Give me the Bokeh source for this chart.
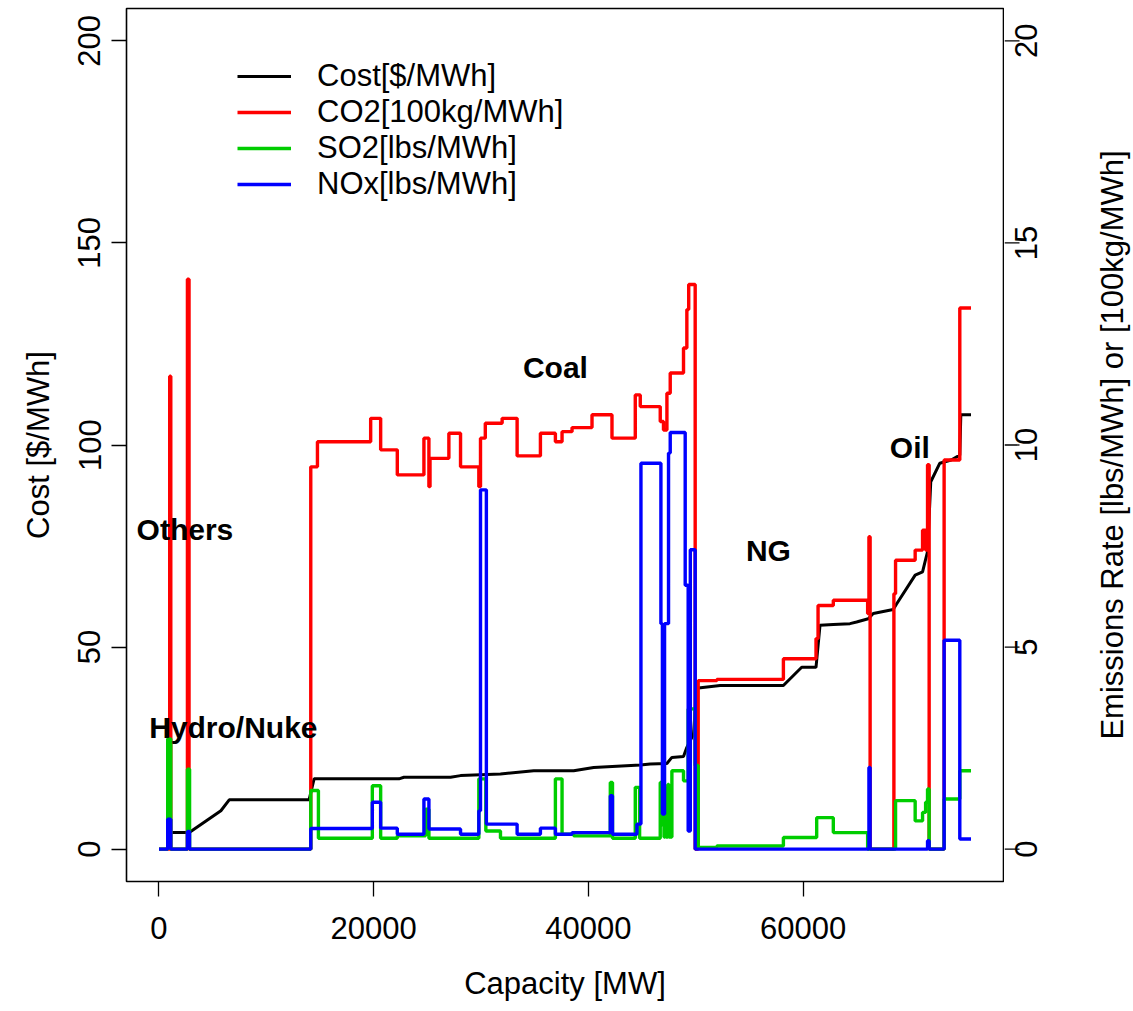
import math
from bokeh.plotting import figure
from bokeh.layouts import row
from bokeh.models import Range1d, FixedTicker, Legend, LegendItem
from bokeh.core.properties import value
from bokeh.embed import file_html
from bokeh.resources import INLINE

# ---------------- data ----------------
# generation cost [$/MWh] along the merit order (left axis)
cost_x = [950, 2822, 5767, 6543, 13984, 14450, 22357, 22820, 27163, 28093, 31814,
          34911, 38635, 40496, 44837, 45767, 47318, 47783, 48866, 49177, 49798,
          50100, 50260, 52279, 58171, 59876, 61209, 61581, 62822, 64372, 64992,
          66077, 66543, 68403, 68700, 70447, 71135, 71600, 71900, 72744, 73800,
          74605, 74700, 75650]
cost_y = [4.1, 4.1, 9.5, 12.2, 12.2, 17.4, 17.4, 17.8, 17.8, 18.2, 18.6,
          19.4, 19.4, 20.2, 20.8, 21.1, 21.2, 22.7, 22.9, 25.2, 28.5,
          39.9, 39.9, 40.5, 40.5, 45.0, 45.0, 55.4, 55.6, 55.8, 56.2,
          57.0, 58.3, 59.3, 60.6, 67.8, 68.6, 73.6, 90.9, 95.5, 96.3,
          97.5, 107.5, 107.5]

# CO2 [100kg/MWh] (right axis, step)
co2_x = [0, 1000, 1100, 2650, 2800, 14140, 14763, 19721, 20651, 22202, 24682,
         25147, 25250, 27007, 28093, 29798, 29953, 30400, 31969, 33364, 35535,
         36930, 37550, 38481, 40341, 42202, 44372, 44837, 46698, 47000, 47320,
         47628, 48866, 49177, 49350, 49953, 50233, 51969, 58171, 61209, 61400,
         62822, 66019, 66140, 66250, 68465, 68620, 70447, 71135, 71420, 71600,
         71750, 73144, 74605, 75650]
co2_y = [0, 11.7, 0, 14.1, 0, 9.46, 10.08, 10.66, 9.88, 9.26, 10.17,
         8.97, 9.67, 10.29, 9.46, 8.97, 10.17, 10.54, 10.66, 9.73, 10.29,
         10.08, 10.33, 10.43, 10.75, 10.17, 11.24, 10.95, 10.58, 10.37, 11.28,
         11.78, 12.40, 13.35, 13.97, 0, 4.17, 4.20, 4.71, 5.21, 6.03,
         6.16, 5.83, 7.73, 0, 6.32, 7.15, 7.40, 7.89, 7.40, 9.51,
         0, 9.63, 13.39, 13.39]

# SO2 [lbs/MWh] (right axis, step)
so2_x = [0, 810, 1100, 2650, 2850, 14140, 14853, 19876, 20651, 22202, 24837,
         25147, 29798, 30450, 31814, 36930, 37550, 38635, 42047, 42250, 44372,
         44775, 46698, 46850, 46950, 47050, 47150, 47250, 47400, 47500, 47783,
         48866, 49300, 49953, 50233, 51969, 58171, 61271, 62822, 66019, 68620,
         70447, 71135, 71420, 71600, 71750, 73144, 74605, 75650]
so2_y = [0, 2.73, 0, 1.98, 0, 1.45, 0.27, 1.57, 0.27, 0.33, 0.99,
         0.27, 1.74, 0.45, 0.27, 1.74, 0.37, 0.33, 1.65, 0.27, 1.53,
         0.27, 1.65, 0.6, 1.6, 0.3, 1.5, 0.3, 1.6, 0.3, 1.94,
         1.69, 3.47, 2.07, 0.04, 0.08, 0.29, 0.78, 0.41, 0, 1.20,
         0.70, 0.91, 1.16, 1.49, 0, 1.24, 1.94, 1.94]

# NOx [lbs/MWh] (right axis, step)
nox_x = [0, 810, 1100, 2650, 2850, 14140, 19876, 20651, 22202, 24682, 25147,
         28093, 29798, 29953, 30500, 33364, 35535, 36930, 38481, 42047, 42250,
         44527, 44900, 46760, 46900, 47100, 47470, 47628, 49023, 49300, 49500,
         49953, 66140, 66250, 71600, 71750, 73144, 74605, 75650]
nox_y = [0, 0.74, 0, 0.44, 0, 0.51, 1.16, 0.52, 0.37, 1.24, 0.50,
         0.37, 0.95, 8.89, 0.62, 0.37, 0.52, 0.37, 0.41, 1.32, 0.37,
         0.62, 9.55, 5.58, 0.87, 5.58, 9.80, 10.31, 6.53, 0.45, 7.41,
         0, 2.02, 0, 0.21, 0, 5.17, 0.25, 0.25]

x_ticks = [0, 20000, 40000, 60000]
cost_ticks = [0, 50, 100, 150, 200]
em_ticks = [0, 5, 10, 15, 20]
em_tick_labels = ["0", "5", "10", "15", "20"]

region_names = ["Others", "Hydro/Nuke", "Coal", "NG", "Oil"]
region_x = [2419, 6930, 36930, 56772, 69953]
region_y = [79.0, 30.0, 119.2, 74.0, 99.5]

legend_labels = ["Cost[$/MWh]", "CO2[100kg/MWh]", "SO2[lbs/MWh]", "NOx[lbs/MWh]"]
series_colors = ["#000000", "#FF0000", "#00CD00", "#0000FF"]
right_label = "Emissions Rate [lbs/MWh] or [100kg/MWh]"

# ---------------- main figure ----------------
FONT = "Liberation Sans"
FS = "31px"
FRAME_W, FRAME_H = 877, 873
TOP = 8
x_max = max(cost_x)
x_lo, x_hi = -0.04 * x_max, 1.04 * x_max
em_range = (-0.8, 20.8)

p = figure(frame_width=FRAME_W, frame_height=FRAME_H,
           x_range=Range1d(x_lo, x_hi),
           y_range=Range1d(-8, 208),
           output_backend="svg", toolbar_location=None,
           min_border_left=126, min_border_right=1,
           min_border_top=TOP, min_border_bottom=118,
           background_fill_color="white", border_fill_color="white")
p.extra_y_ranges = {"em": Range1d(*em_range)}
p.xgrid.visible = False
p.ygrid.visible = False
p.outline_line_color = "black"
p.outline_line_width = 1.6


def style_axis(ax, ticks, label, orient, tick_standoff, label_standoff):
    ax.ticker = FixedTicker(ticks=ticks)
    ax.axis_label = label
    ax.axis_label_text_font = FONT
    ax.axis_label_text_font_size = FS
    ax.axis_label_text_font_style = "normal"
    ax.axis_label_text_color = "black"
    ax.axis_label_standoff = label_standoff
    ax.major_label_text_font = FONT
    ax.major_label_text_font_size = FS
    ax.major_label_text_color = "black"
    ax.major_label_standoff = tick_standoff
    ax.major_label_orientation = orient
    ax.major_tick_out = 15
    ax.major_tick_in = 0
    ax.major_tick_line_width = 1.3
    ax.major_tick_line_color = "black"
    ax.minor_tick_line_color = None
    ax.axis_line_color = None


style_axis(p.xaxis[0], x_ticks, "Capacity [MW]", "horizontal", 20, 24)
style_axis(p.yaxis[0], cost_ticks, "Cost [$/MWh]", "parallel", 11, 20)

LW = 3.4
r_cost = p.line(cost_x, cost_y, line_color=series_colors[0], line_width=LW - 0.4)
r_co2 = p.step(co2_x, co2_y, mode="after", y_range_name="em",
               line_color=series_colors[1], line_width=LW)
r_so2 = p.step(so2_x, so2_y, mode="after", y_range_name="em",
               line_color=series_colors[2], line_width=LW)
r_nox = p.step(nox_x, nox_y, mode="after", y_range_name="em",
               line_color=series_colors[3], line_width=LW)

p.text(x=region_x, y=region_y, text=region_names,
       text_font=value(FONT), text_font_style="bold", text_font_size="30px",
       text_align="center", text_baseline="middle", text_color="black")

legend = Legend(items=[LegendItem(label=lab, renderers=[r])
                       for lab, r in zip(legend_labels, [r_cost, r_co2, r_so2, r_nox])],
                location=(111, 679), orientation="vertical",
                background_fill_alpha=0, border_line_color=None,
                padding=0, margin=0, spacing=0,
                glyph_width=54, glyph_height=36, label_height=36,
                label_standoff=26,
                label_text_font=FONT, label_text_font_size=FS,
                label_text_color="black")
p.add_layout(legend, "center")

# ---------------- right-hand emissions axis (ticks, labels, title) ----------------
# drawn in a narrow companion panel sharing the emissions scale, so that the
# labels read bottom-to-top like the reference
RIGHT_W = 1133 - (126 + FRAME_W + 1)
q = figure(frame_width=RIGHT_W, frame_height=FRAME_H,
           x_range=Range1d(0, RIGHT_W), y_range=Range1d(*em_range),
           x_axis_type=None, y_axis_type=None,
           output_backend="svg", toolbar_location=None,
           min_border_left=0, min_border_right=0,
           min_border_top=TOP, min_border_bottom=0,
           background_fill_color="white", border_fill_color="white")
q.outline_line_color = None
q.xgrid.visible = False
q.ygrid.visible = False
q.segment(x0=[0] * len(em_ticks), x1=[15] * len(em_ticks), y0=em_ticks, y1=em_ticks,
          line_color="black", line_width=1.3)
q.text(x=[21] * len(em_ticks), y=em_ticks, text=em_tick_labels, angle=math.pi / 2,
       text_font=value(FONT), text_font_size=FS, text_color="black",
       text_align="center", text_baseline="middle")
q.text(x=[108], y=[(em_range[0] + em_range[1]) / 2], text=[right_label], angle=math.pi / 2,
       text_font=value(FONT), text_font_size=FS, text_color="black",
       text_align="center", text_baseline="middle")

layout = row(p, q, spacing=0)
open("out.html", "w").write(file_html(layout, INLINE))
